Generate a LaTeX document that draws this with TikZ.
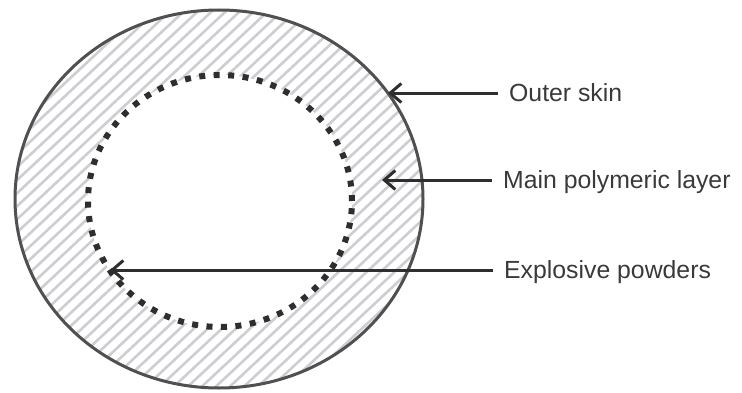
\documentclass[tikz,border=0pt]{standalone}
\usepackage{fontspec}
\setmainfont{Liberation Sans}
\usepackage{tikz}
\usetikzlibrary{arrows.meta,shapes.geometric}
\definecolor{ink}{HTML}{2E2E2E}
\definecolor{rim}{HTML}{505050}
\definecolor{hatch}{HTML}{CDCDD2}
\definecolor{txt}{HTML}{3A3A3A}

\begin{document}
\begin{tikzpicture}[x=1pt,y=1pt,
  font=\fontsize{24.8}{30}\selectfont,
  lab/.style={anchor=west,text=txt,inner xsep=11pt,inner ysep=0pt,
              text height=17.7pt,text depth=0pt},
  w/.style={-{Straight Barb[length=11pt,width=19pt]},line width=3pt,draw=ink}]
  \useasboundingbox (0,0) rectangle (742,392);
  % hatched polymer layer
  \begin{scope}
    \clip (219,193) ellipse [x radius=204, y radius=189];
    \foreach \i in {-35,...,35}
      \draw[hatch,line width=2.6pt] (\i*14,0) -- (\i*14+420,392);
  \end{scope}
  \node[ellipse,draw=rim,line width=3pt,inner sep=0pt,
        minimum width=408pt,minimum height=378pt] (shell) at (219,193) {};
  \node[ellipse,fill=white,draw=ink,line width=6pt,dash pattern=on 6pt off 8.5pt,
        inner sep=0pt,minimum width=264pt,minimum height=252pt] (core) at (220,191) {};
  % labels
  \node[lab] (skin) at (498,299) {Outer skin};
  \node[lab] (layer) at (492,212) {Main polymeric layer};
  \node[lab] (powder) at (493,122) {Explosive powders};
  \coordinate (skintip) at (388,299);
  \coordinate (layertip) at (382,212);
  \coordinate (powdertip) at (110,122);
  \draw[w] (skin.west) -- (skintip);
  \draw[w] (layer.west) -- (layertip);
  \draw[w] (powder.west) -- (powdertip);
\end{tikzpicture}
\end{document}
